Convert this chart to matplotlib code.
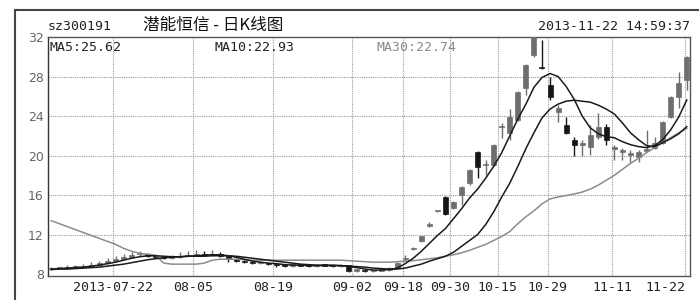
import numpy as np
import matplotlib
matplotlib.use('Agg')
import matplotlib.pyplot as plt
from matplotlib.lines import Line2D

# daily candles, one per trading day (index 0 = first day shown)
opens = [8.5, 8.6, 8.6, 8.65, 8.7, 8.8, 8.9, 9.1, 9.3, 9.5,
         9.7, 10.0, 10.0, 9.8, 9.7, 9.6, 9.7, 9.85, 9.9, 10.0,
         9.95, 10.0, 9.8, 9.5, 9.3, 9.2, 9.1, 9.1, 9.0, 8.9,
         8.85, 8.9, 8.85, 8.8, 8.9, 8.85, 8.8, 8.9, 8.35, 8.4,
         8.3, 8.35, 8.4, 8.65, 9.5, 10.55, 11.3, 12.9, 14.35, 15.8,
         14.7, 16.0, 17.2, 20.4, 19.0, 19.0, 22.85, 22.3, 23.6, 26.8,
         30.2, 28.9, 27.1, 24.4, 23.1, 21.6, 21.1, 20.9, 21.9, 22.9,
         20.7, 20.4, 20.1, 19.8, 20.5, 20.8, 21.3, 23.9, 25.9, 27.6]
closes = [8.55, 8.6, 8.65, 8.7, 8.8, 8.9, 9.1, 9.3, 9.5, 9.7,
          9.9, 10.05, 9.8, 9.7, 9.6, 9.7, 9.85, 9.9, 10.0, 9.95,
          10.0, 9.85, 9.5, 9.3, 9.2, 9.1, 9.1, 9.0, 8.9, 8.85,
          8.9, 8.85, 8.8, 8.9, 8.85, 8.8, 8.9, 8.35, 8.4, 8.3,
          8.35, 8.4, 8.6, 9.1, 9.6, 10.6, 11.8, 13.0, 14.35, 14.1,
          15.3, 16.8, 18.5, 18.8, 19.0, 21.1, 22.9, 23.9, 26.4, 29.2,
          32.6, 28.85, 25.9, 24.8, 22.3, 21.1, 21.1, 22.1, 22.9, 21.6,
          20.7, 20.4, 20.1, 20.4, 20.55, 21.3, 23.4, 25.9, 27.3, 30.0]
highs = [8.7, 8.7, 8.9, 8.95, 9.0, 9.2, 9.3, 9.6, 9.8, 10.0,
         10.2, 10.3, 10.1, 9.9, 9.8, 9.9, 10.2, 10.3, 10.4, 10.3,
         10.4, 10.2, 9.85, 9.6, 9.4, 9.35, 9.3, 9.2, 9.1, 9.0,
         9.0, 9.0, 8.95, 9.0, 9.0, 8.95, 9.0, 8.95, 8.5, 8.45,
         8.45, 8.5, 8.7, 9.2, 9.9, 10.7, 11.9, 13.3, 14.4, 15.9,
         15.4, 16.9, 18.6, 20.5, 19.5, 21.2, 23.3, 24.7, 26.5, 29.3,
         32.8, 31.7, 28.0, 25.1, 23.9, 21.9, 21.6, 23.1, 24.3, 23.2,
         21.1, 20.8, 20.6, 20.6, 22.6, 21.9, 23.5, 26.0, 28.5, 30.1]
lows = [8.45, 8.5, 8.55, 8.6, 8.65, 8.75, 8.85, 9.0, 9.2, 9.4,
        9.6, 9.8, 9.7, 9.6, 9.5, 9.5, 9.6, 9.8, 9.8, 9.85,
        9.85, 9.75, 9.2, 9.2, 9.1, 9.0, 9.0, 8.9, 8.7, 8.7,
        8.75, 8.8, 8.7, 8.75, 8.8, 8.7, 8.75, 8.2, 8.25, 8.2,
        8.25, 8.3, 8.35, 8.6, 9.3, 10.45, 11.2, 12.8, 14.3, 14.0,
        14.6, 15.0, 17.0, 17.7, 18.0, 18.9, 21.8, 21.6, 23.5, 26.1,
        30.0, 28.8, 25.6, 23.4, 22.2, 20.0, 20.0, 20.1, 21.7, 21.1,
        19.5, 19.5, 19.2, 19.3, 20.4, 20.7, 21.2, 23.8, 24.8, 26.6]

# moving averages as drawn on the chart
ma5 = [8.5, 8.55, 8.6, 8.65, 8.7, 8.8, 8.9, 9.05, 9.2, 9.4,
       9.6, 9.75, 9.85, 9.85, 9.8, 9.75, 9.75, 9.8, 9.85, 9.9,
       9.95, 9.95, 9.85, 9.7, 9.5, 9.3, 9.2, 9.1, 9.05, 8.95,
       8.9, 8.9, 8.85, 8.85, 8.85, 8.85, 8.85, 8.75, 8.65, 8.5,
       8.4, 8.4, 8.45, 8.6, 9.05, 9.6, 10.3, 11.1, 11.9, 12.6,
       13.6, 14.6, 15.7, 16.6, 17.7, 18.9, 20.3, 22.0, 23.7, 25.2,
       26.9, 27.9, 28.3, 28.0, 27.0, 25.7, 24.0, 22.8, 22.2, 21.9,
       21.8, 21.4, 21.1, 20.9, 20.8, 21.0, 21.6, 22.6, 23.9, 25.62]
ma10 = [8.45, 8.5, 8.5, 8.55, 8.6, 8.65, 8.7, 8.8, 8.9, 9.0,
        9.15, 9.3, 9.45, 9.55, 9.65, 9.7, 9.75, 9.8, 9.8, 9.8,
        9.85, 9.85, 9.85, 9.8, 9.7, 9.6, 9.5, 9.4, 9.3, 9.2,
        9.1, 9.0, 8.95, 8.9, 8.9, 8.9, 8.85, 8.8, 8.75, 8.7,
        8.6, 8.55, 8.5, 8.5, 8.6, 8.8, 9.0, 9.3, 9.55, 9.8,
        10.2, 10.8, 11.4, 12.0, 13.0, 14.3, 15.8, 17.2, 18.9, 20.7,
        22.3, 23.8, 24.7, 25.2, 25.5, 25.6, 25.5, 25.4, 25.1, 24.7,
        24.2, 23.3, 22.3, 21.6, 21.0, 20.9, 21.3, 21.7, 22.2, 22.93]
ma30 = [13.4, 13.1, 12.8, 12.5, 12.2, 11.9, 11.6, 11.3, 11.0, 10.6,
        10.3, 10.1, 10.0, 9.9, 9.1, 9.0, 9.0, 9.0, 9.0, 9.1,
        9.4, 9.5, 9.5, 9.5, 9.45, 9.4, 9.4, 9.4, 9.4, 9.4,
        9.4, 9.4, 9.4, 9.4, 9.4, 9.4, 9.4, 9.35, 9.3, 9.25,
        9.2, 9.2, 9.2, 9.25, 9.3, 9.35, 9.45, 9.55, 9.65, 9.8,
        9.95, 10.15, 10.4, 10.7, 11.0, 11.4, 11.8, 12.3, 13.1, 13.8,
        14.4, 15.1, 15.6, 15.8, 15.95, 16.1, 16.3, 16.6, 17.0, 17.5,
        18.0, 18.6, 19.2, 19.7, 20.3, 20.8, 21.3, 21.8, 22.3, 22.74]

date_labels = ['2013-07-22', '08-05', '08-19', '09-02', '09-18',
               '09-30', '10-15', '10-29', '11-11', '11-22']
tick_idx = [7.7, 17.6, 27.6, 37.4, 43.7, 49.6, 55.5, 61.7, 69.7, 78.8]
yticks = [8, 12, 16, 20, 24, 28, 32]

mono = 'DejaVu Sans Mono'
cjk = ['Noto Sans CJK SC', 'DejaVu Sans']

fig = plt.figure(figsize=(6.99, 3.0), dpi=100)
ax = fig.add_axes([48 / 699, 24 / 300, 642 / 699, 239 / 300])

x = np.arange(len(closes))
o = np.array(opens)
c = np.array(closes)
h = np.array(highs)
l = np.array(lows)
up = c >= o
body_low = np.minimum(o, c)
body_h = np.maximum(np.abs(c - o), 0.12)

up_col = '#6e6e6e'
dn_col = '#161616'
for mask, col in [(up, up_col), (~up, dn_col)]:
    ax.vlines(x[mask], l[mask], h[mask], color=col, lw=1.0, zorder=3)
    ax.bar(x[mask], body_h[mask], bottom=body_low[mask], width=0.62,
           color=col, edgecolor=col, lw=0.5, zorder=4)

ax.plot(x, ma30, color='#8c8c8c', lw=1.1, zorder=5)
ax.plot(x, ma10, color='#1a1a1a', lw=1.1, zorder=5)
ax.plot(x, ma5, color='#1a1a1a', lw=1.1, zorder=5)

ax.set_xlim(-0.4, 79.4)
ax.set_ylim(7.8, 32)
ax.set_yticks(yticks)
ax.set_yticklabels([str(v) for v in yticks], color='#666666', fontsize=9)
ax.set_xticks(tick_idx)
ax.set_xticklabels([])
ax.tick_params(length=0, pad=3)
for i, (pos, lab) in enumerate(zip(tick_idx, date_labels)):
    ha = 'right' if i == len(date_labels) - 1 else 'center'
    ax.text(pos, -0.02, lab, transform=ax.get_xaxis_transform(), ha=ha, va='top',
            family=mono, fontsize=9.5, color='#222222')

for v in yticks[1:-1]:
    ax.axhline(v, color='#9a9a9a', lw=0.8, ls=(0, (1, 1)), zorder=1)
for pos in tick_idx:
    ax.axvline(pos, color='#9a9a9a', lw=0.8, ls=(0, (1, 1)), zorder=1)

for side in ['left', 'right', 'top', 'bottom']:
    ax.spines[side].set_color('#555555')
    ax.spines[side].set_linewidth(1.0)
ax.spines['left'].set_color('#333333')

# legend values
ax.text(0.003, 0.985, 'MA5:25.62', transform=ax.transAxes, ha='left', va='top',
        family=mono, fontsize=9.5, color='#222222')
ax.text(0.260, 0.985, 'MA10:22.93', transform=ax.transAxes, ha='left', va='top',
        family=mono, fontsize=9.5, color='#222222')
ax.text(0.512, 0.985, 'MA30:22.74', transform=ax.transAxes, ha='left', va='top',
        family=mono, fontsize=9.5, color='#8a8a8a')

# header
fig.text(48 / 699, 1 - 27 / 300, 'sz300191', ha='left', va='center',
         family=mono, fontsize=9.5, color='#222222')
fig.text(143 / 699, 1 - 25 / 300, '潜能恒信 - 日K线图', ha='left', va='center',
         family=cjk, fontsize=12, color='#111111')
fig.text(690 / 699, 1 - 27 / 300, '2013-11-22 14:59:37', ha='right', va='center',
         family=mono, fontsize=9.5, color='#222222')

# outer frame
fig.add_artist(Line2D([15 / 699, 15 / 699], [0, 1 - 10 / 300], transform=fig.transFigure,
                      color='#444444', lw=1.5))
fig.add_artist(Line2D([15 / 699, 1], [1 - 10 / 300, 1 - 10 / 300], transform=fig.transFigure,
                      color='#444444', lw=1.5))

fig.savefig('out.png', dpi=100, facecolor='white')
